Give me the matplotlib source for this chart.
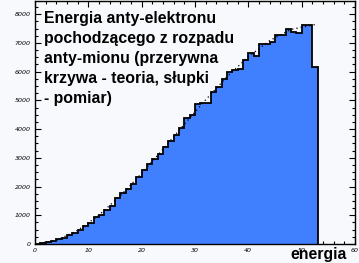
import matplotlib
matplotlib.use("Agg")
import matplotlib.pyplot as plt
from matplotlib.ticker import MultipleLocator

# --- data ---
bin_edges = list(range(0, 54))  # 53 bins of width 1 (energy)
counts = [2, 20, 55, 95, 165, 210, 310, 390, 500, 640,
          720, 950, 1000, 1200, 1330, 1590, 1790, 1900, 2080, 2340,
          2570, 2780, 2950, 3120, 3390, 3570, 3800, 4024, 4400, 4490,
          4890, 4916, 4920, 5280, 5450, 5760, 5990, 6060, 6110, 6410,
          6655, 6530, 6980, 6980, 7040, 7290, 7290, 7500, 7390, 7330,
          7620, 7620, 6150]
theory_E = [0, 4, 8, 12, 16, 20, 24, 28, 32, 36, 40, 44, 48, 52.8]
theory_N = [0, 125, 475, 1005, 1680, 2460, 3300, 4170, 5020, 5820, 6520, 7080, 7470, 7650]
x_ticks = [0, 10, 20, 30, 40, 50, 60]
y_ticks = [0, 1000, 2000, 3000, 4000, 5000, 6000, 7000, 8000]
title_text = ("Energia anty-elektronu\npochodzącego z rozpadu\n"
              "anty-mionu (przerywna\nkrzywa - teoria, słupki\n- pomiar)")
x_label = "energia"

bg = "#f8f9fc"
W, H = 359, 263
fig = plt.figure(figsize=(W / 100, H / 100), dpi=100, facecolor=bg)
ax = fig.add_axes([35 / W, (H - 244) / H, (355 - 35) / W, (244 - 1) / H], facecolor=bg)

ax.stairs(counts, bin_edges, fill=True, facecolor="#4080ff", edgecolor="none", zorder=2)
ax.stairs(counts, bin_edges, fill=False, baseline=0, edgecolor="black", linewidth=1.3, zorder=3)
ax.plot(theory_E, theory_N, color="black", linestyle=(0, (1, 2.5)), linewidth=0.9, zorder=4)

ax.set_xlim(0, 60)
ax.set_ylim(0, 8460)
ax.set_xticks(x_ticks)
ax.set_yticks(y_ticks)
ax.xaxis.set_minor_locator(MultipleLocator(2))
ax.yaxis.set_minor_locator(MultipleLocator(250))
ax.tick_params(which="both", direction="in", top=True, right=True, color="black", width=0.8)
ax.tick_params(which="major", length=4, labelsize=4.5, pad=3)
ax.tick_params(which="minor", length=2)
for lab in ax.get_xticklabels() + ax.get_yticklabels():
    lab.set_fontstyle("italic")
for s in ax.spines.values():
    s.set_linewidth(1.0)
    s.set_color("black")

fig.text(44 / W, 1 - 11 / H, title_text, ha="left", va="top",
         fontsize=11.4, fontweight="bold", family="Liberation Sans",
         linespacing=1.42, color="black", zorder=10)
fig.text(290 / W, 1 - 259 / H, x_label, ha="left", va="baseline",
         fontsize=11.4, fontweight="bold", family="Liberation Sans", color="black", zorder=10)

fig.savefig("out.png", dpi=100, facecolor=bg)
